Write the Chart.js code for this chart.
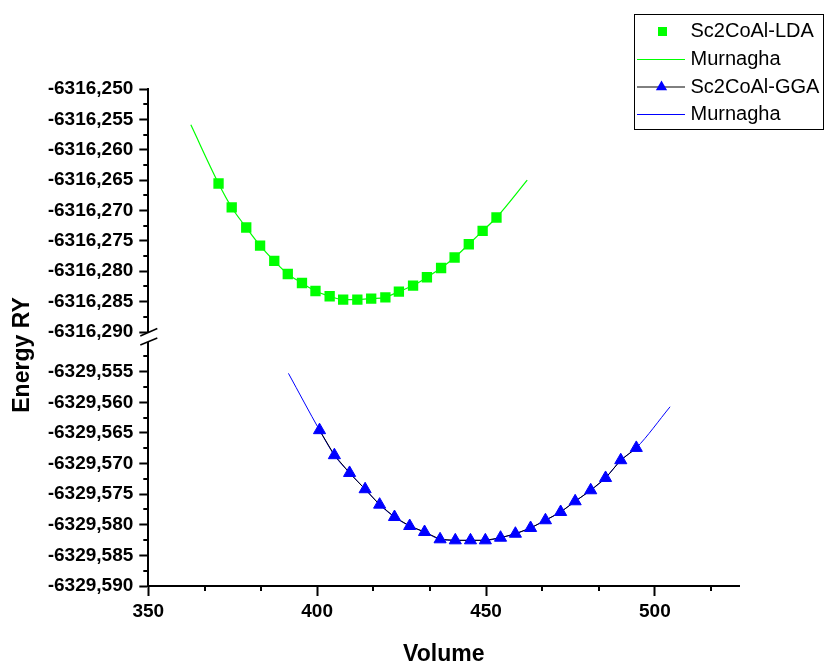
<!DOCTYPE html>
<html><head><meta charset="utf-8">
<script src="https://cdn.jsdelivr.net/npm/chart.js@4.4.0/dist/chart.umd.min.js"></script>
<style>html,body{margin:0;padding:0;background:#fff;}canvas{display:block;}</style>
</head><body>
<canvas id="c" width="827" height="666"></canvas>
<script>
// ---- data ----
const ldaVolume = [370.8, 374.7, 379.0, 383.1, 387.3, 391.3, 395.5, 399.5, 403.7, 407.7, 411.9, 416.0, 420.2, 424.2, 428.4, 432.5, 436.7, 440.7, 444.9, 449.0, 453.1];
const ldaEnergy = [-6316.26555, -6316.26950, -6316.27280, -6316.27577, -6316.27830, -6316.28045, -6316.28193, -6316.28325, -6316.28412, -6316.28467, -6316.28467, -6316.28450, -6316.28429, -6316.28335, -6316.28236, -6316.28099, -6316.27946, -6316.27774, -6316.27555, -6316.27336, -6316.27115];
const ldaFitVolume = [362.6, 370.8, 374.7, 379.0, 383.1, 387.3, 391.3, 395.5, 399.5, 403.7, 407.7, 411.9, 416.0, 420.2, 424.2, 428.4, 432.5, 436.7, 440.7, 444.9, 449.0, 453.1, 462.2];
const ldaFitEnergy = [-6316.2559, -6316.26555, -6316.26950, -6316.27280, -6316.27577, -6316.27830, -6316.28045, -6316.28193, -6316.28325, -6316.28412, -6316.28467, -6316.28467, -6316.28450, -6316.28429, -6316.28335, -6316.28236, -6316.28099, -6316.27946, -6316.27774, -6316.27555, -6316.27336, -6316.27115, -6316.2650];
const ggaVolume = [400.7, 405.1, 409.6, 414.2, 418.5, 422.9, 427.4, 431.8, 436.4, 440.9, 445.4, 449.8, 454.3, 458.7, 463.2, 467.6, 472.1, 476.4, 481.0, 485.4, 489.9, 494.5];
const ggaEnergy = [-6329.56454, -6329.56863, -6329.57153, -6329.57419, -6329.57671, -6329.57873, -6329.58020, -6329.58118, -6329.58237, -6329.58254, -6329.58254, -6329.58254, -6329.58211, -6329.58146, -6329.58052, -6329.57926, -6329.57791, -6329.57616, -6329.57436, -6329.57235, -6329.56945, -6329.56744];
const ggaFitVolume = [391.5, 400.7, 405.1, 409.6, 414.2, 418.5, 422.9, 427.4, 431.8, 436.4, 440.9, 445.4, 449.8, 454.3, 458.7, 463.2, 467.6, 472.1, 476.4, 481.0, 485.4, 489.9, 494.5, 504.5];
const ggaFitEnergy = [-6329.55526, -6329.56454, -6329.56863, -6329.57153, -6329.57419, -6329.57671, -6329.57873, -6329.58020, -6329.58118, -6329.58237, -6329.58254, -6329.58254, -6329.58254, -6329.58211, -6329.58146, -6329.58052, -6329.57926, -6329.57791, -6329.57616, -6329.57436, -6329.57235, -6329.56945, -6329.56744, -6329.56072];

const xTicks = [350, 400, 450, 500];
const upperTicks = [-6316.290, -6316.285, -6316.280, -6316.275, -6316.270, -6316.265, -6316.260, -6316.255, -6316.250];
const lowerTicks = [-6329.590, -6329.585, -6329.580, -6329.575, -6329.570, -6329.565, -6329.560, -6329.555];
const xRange = [350, 525];
const upperRange = [-6316.290, -6316.250];
const lowerRange = [-6329.590, -6329.5503];
const legendLabels = ['Sc2CoAl-LDA', 'Murnagha', 'Sc2CoAl-GGA', 'Murnagha'];
const xTitle = 'Volume';
const yTitle = 'Energy RY';

const FONT = "'Liberation Sans', Arial, sans-serif";
const GREEN = '#00ff00', BLUE = '#0000ff';

const pts = (xs, ys) => xs.map((x, i) => ({x: x, y: ys[i]}));
const tickFont = {family: FONT, size: 19, weight: 'bold'};

function yAxis(range, ticks, weight) {
  return {
    type: 'linear', position: 'left', stack: 'energy', stackWeight: weight,
    min: range[0], max: range[1],
    afterBuildTicks: ax => { ax.ticks = ticks.map(v => ({value: v})); },
    afterFit: ax => { ax.width = 100; },
    ticks: {font: tickFont, color: '#000', padding: 6, autoSkip: false,
      callback: v => Number(v).toFixed(3).replace('.', ',')},
    grid: {drawOnChartArea: false, drawTicks: true, tickLength: 9, tickWidth: 2, tickColor: '#000'},
    border: {display: true, color: '#000', width: 2}
  };
}

const decor = {
  id: 'decor',
  afterDraw(chart) {
    const ctx = chart.ctx, ca = chart.chartArea;
    ctx.save();
    ctx.strokeStyle = '#000';
    ctx.lineWidth = 2;
    // minor y ticks
    [[chart.scales.yUp, upperTicks], [chart.scales.yLow, lowerTicks]].forEach(([s, majors]) => {
      const half = (majors[1] - majors[0]) / 2;
      const cands = [];
      majors.forEach(m => { cands.push(m - half, m + half); });
      const seen = {};
      cands.forEach(v => {
        const key = Math.round(v * 1e5);
        if (seen[key]) return; seen[key] = true;
        if (v < s.min - 1e-7 || v > s.max + 1e-7) return;
        if (majors.some(m => Math.abs(m - v) < 1e-6)) return;
        const y = Math.round(s.getPixelForValue(v));
        ctx.beginPath(); ctx.moveTo(ca.left - 5, y); ctx.lineTo(ca.left, y); ctx.stroke();
      });
    });
    // minor x ticks
    const sx = chart.scales.x;
    const third = (xTicks[1] - xTicks[0]) / 3;
    xTicks.forEach(m => {
      [m + third, m + 2 * third].forEach(v => {
        if (v > sx.max) return;
        const x = Math.round(sx.getPixelForValue(v));
        ctx.beginPath(); ctx.moveTo(x, ca.bottom); ctx.lineTo(x, ca.bottom + 5); ctx.stroke();
      });
    });
    // axis break marks
    const g = chart.scales.yGap;
    ctx.lineWidth = 1.5;
    ctx.beginPath(); ctx.moveTo(ca.left - 8, g.top + 4); ctx.lineTo(ca.left + 9, g.top - 3.5); ctx.stroke();
    ctx.beginPath(); ctx.moveTo(ca.left - 8, g.bottom + 2); ctx.lineTo(ca.left + 9, g.bottom - 5); ctx.stroke();
    // y axis title
    ctx.save();
    ctx.fillStyle = '#000';
    ctx.font = 'bold 23px ' + FONT;
    ctx.textAlign = 'center';
    ctx.textBaseline = 'alphabetic';
    ctx.translate(28.5, 355);
    ctx.rotate(-Math.PI / 2);
    ctx.fillText(yTitle, 0, 0);
    ctx.restore();
    // legend
    ctx.lineWidth = 1;
    ctx.strokeStyle = '#000';
    ctx.strokeRect(634.5, 14.5, 189, 115);
    const rows = [31.5, 59.5, 87, 114.5];
    const sx0 = 637, sx1 = 685, cx = 661.5;
    ctx.font = '20px ' + FONT;
    ctx.textBaseline = 'middle';
    ctx.textAlign = 'left';
    ctx.fillStyle = '#000';
    legendLabels.forEach((t, i) => ctx.fillText(t, 690.5, rows[i]));
    // row 1 square
    ctx.fillStyle = GREEN;
    ctx.fillRect(cx - 4.5 + 1, rows[0] - 4.5, 9, 9);
    // row 2 green line
    ctx.strokeStyle = GREEN; ctx.lineWidth = 1.2;
    ctx.beginPath(); ctx.moveTo(sx0, rows[1]); ctx.lineTo(sx1, rows[1]); ctx.stroke();
    // row 3 black line + triangle
    ctx.strokeStyle = '#000'; ctx.lineWidth = 1;
    ctx.beginPath(); ctx.moveTo(sx0, rows[2]); ctx.lineTo(sx1, rows[2]); ctx.stroke();
    const r = 6.5;
    ctx.fillStyle = BLUE;
    ctx.beginPath();
    ctx.moveTo(cx, rows[2] - r);
    ctx.lineTo(cx + 0.866 * r, rows[2] + 0.5 * r);
    ctx.lineTo(cx - 0.866 * r, rows[2] + 0.5 * r);
    ctx.closePath(); ctx.fill();
    // row 4 blue line
    ctx.strokeStyle = BLUE; ctx.lineWidth = 1;
    ctx.beginPath(); ctx.moveTo(sx0, rows[3]); ctx.lineTo(sx1, rows[3]); ctx.stroke();
    ctx.restore();
  }
};

new Chart(document.getElementById('c'), {
  type: 'scatter',
  data: {
    datasets: [
      {label: legendLabels[0], data: pts(ldaVolume, ldaEnergy), yAxisID: 'yUp',
       pointStyle: 'rect', pointRadius: 7.3, backgroundColor: GREEN, borderColor: GREEN, borderWidth: 0, showLine: false},
      {label: legendLabels[2], data: pts(ggaVolume, ggaEnergy), yAxisID: 'yLow',
       pointStyle: 'triangle', pointRadius: 7, pointBackgroundColor: BLUE, pointBorderColor: BLUE, pointBorderWidth: 1,
       borderColor: '#000', borderWidth: 1, showLine: true, tension: 0},
      {label: legendLabels[1], data: pts(ldaFitVolume, ldaFitEnergy), yAxisID: 'yUp',
       showLine: true, borderColor: GREEN, borderWidth: 1.2, pointRadius: 0, cubicInterpolationMode: 'monotone'},
      {label: legendLabels[3], data: pts(ggaFitVolume, ggaFitEnergy), yAxisID: 'yLow',
       showLine: true, borderColor: BLUE, borderWidth: 1, pointRadius: 0, cubicInterpolationMode: 'monotone'}
    ]
  },
  options: {
    responsive: false, animation: false, devicePixelRatio: 1,
    layout: {padding: {left: 48.3, top: 89, right: 87.7, bottom: 0}},
    plugins: {legend: {display: false}, tooltip: {enabled: false}},
    scales: {
      x: {
        type: 'linear', position: 'bottom', min: xRange[0], max: xRange[1],
        afterBuildTicks: ax => { ax.ticks = xTicks.map(v => ({value: v})); },
        afterFit: ax => { ax.height = 80; },
        ticks: {font: tickFont, color: '#000', padding: 4, autoSkip: false, maxRotation: 0},
        grid: {drawOnChartArea: false, drawTicks: true, tickLength: 10, tickWidth: 2, tickColor: '#000'},
        border: {display: true, color: '#000', width: 2},
        title: {display: true, text: xTitle, color: '#000', padding: 0,
          font: {family: FONT, size: 23, weight: 'bold', lineHeight: 1}}
      },
      yLow: yAxis(lowerRange, lowerTicks, 243),
      yGap: {type: 'linear', position: 'left', stack: 'energy', stackWeight: 11, display: false, min: 0, max: 1},
      yUp: yAxis(upperRange, upperTicks, 243)
    }
  },
  plugins: [decor]
});
</script>
</body></html>
